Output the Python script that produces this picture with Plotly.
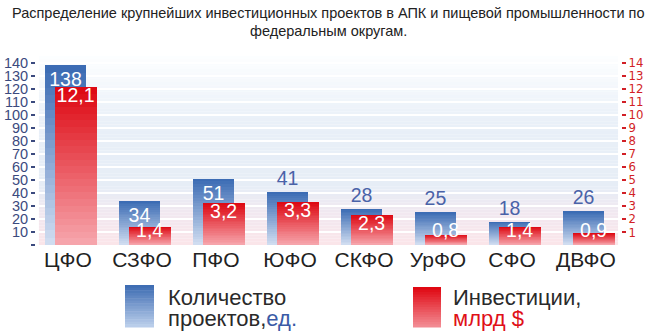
import plotly.graph_objects as go

# ---------------- data ----------------
categories = ["ЦФО", "СЗФО", "ПФО", "ЮФО", "СКФО", "УрФО", "СФО", "ДВФО"]
projects = [138, 34, 51, 41, 28, 25, 18, 26]             # Количество проектов, ед.
investments = [12.1, 1.4, 3.2, 3.3, 2.3, 0.8, 1.4, 0.9]   # Инвестиции, млрд $
project_labels = ["138", "34", "51", "41", "28", "25", "18", "26"]
invest_labels = ["12,1", "1,4", "3,2", "3,3", "2,3", "0,8", "1,4", "0,9"]
left_ticks = list(range(0, 141, 10))
right_ticks = list(range(1, 15))

title_line1 = "Распределение крупнейших инвестиционных проектов в АПК и пищевой промышленности по"
title_line2 = "федеральным округам."

# ---------------- style ----------------
W, H = 656, 336
ML, MR, MT, MB = 36, 35, 56, 91
X_RANGE = [-0.432, 7.473]
Y_MAX = 145
BLUE_OFF, BLUE_W = -0.31, 0.554
RED_OFF, RED_W = -0.182, 0.57
N_SEG = 24
RED_LABEL_MIN = 1.75   # lowest anchor for red labels so that text stays above the axis

def hex2rgb(h):
    h = h.lstrip("#")
    return tuple(int(h[i:i + 2], 16) for i in (0, 2, 4))

def lerp(c1, c2, t):
    a, b = hex2rgb(c1), hex2rgb(c2)
    return "rgb(%d,%d,%d)" % tuple(round(a[i] + (b[i] - a[i]) * t) for i in range(3))

BLUE_TOP, BLUE_BOT = "#3c6cb4", "#cfdcf0"
RED_TOP, RED_BOT = "#de0a14", "#f6a4ab"

x = list(range(len(categories)))
fig = go.Figure()

# blue bars (gradient by overlapping shorter lighter bars)
for k in range(N_SEG):
    frac = (N_SEG - k) / N_SEG
    fig.add_trace(go.Bar(
        x=x, y=[v * frac for v in projects], offset=BLUE_OFF, width=BLUE_W,
        marker=dict(color=lerp(BLUE_TOP, BLUE_BOT, k / (N_SEG - 1)), line=dict(width=0)),
        yaxis="y", hoverinfo="skip", showlegend=False))

blue_inside = [v >= 50 or v == 34 for v in projects]
fig.add_trace(go.Bar(
    x=x, y=projects, offset=BLUE_OFF, width=BLUE_W,
    marker=dict(color="rgba(0,0,0,0)", line=dict(width=0)),
    text=project_labels,
    textposition=["inside" if b else "outside" for b in blue_inside],
    insidetextanchor="end", constraintext="none", textangle=0,
    textfont=dict(family="Liberation Sans, Arial", size=19.5,
                  color=["white" if b else "#4a62a8" for b in blue_inside]),
    cliponaxis=False, yaxis="y", hoverinfo="skip", showlegend=False))

# red bars on secondary axis
for k in range(N_SEG):
    frac = (N_SEG - k) / N_SEG
    fig.add_trace(go.Bar(
        x=x, y=[v * frac for v in investments], offset=RED_OFF, width=RED_W,
        marker=dict(color=lerp(RED_TOP, RED_BOT, k / (N_SEG - 1)), line=dict(width=0)),
        yaxis="y2", hoverinfo="skip", showlegend=False))

# red value labels: text anchored just under the bar top
red_x = [xi + RED_OFF + RED_W / 2 for xi in x]
fig.add_trace(go.Scatter(
    x=red_x, y=[max(v, RED_LABEL_MIN) for v in investments], mode="text",
    text=invest_labels, textposition="bottom center",
    textfont=dict(family="Liberation Sans, Arial", size=19.5, color="white"),
    cliponaxis=False, yaxis="y2", hoverinfo="skip", showlegend=False))

# background gradient bands (decoration)
bg_stops = [(0, "#fbe5e9"), (25, "#f1e8f0"), (45, "#e6edf6"), (95, "#e9f0f8"), (145, "#fdfeff")]
def bg_color(yv):
    for (y0, c0), (y1, c1) in zip(bg_stops[:-1], bg_stops[1:]):
        if y0 <= yv <= y1:
            return lerp(c0, c1, (yv - y0) / (y1 - y0))
    return bg_stops[-1][1]

shapes = []
step = 2.5
yb = 0.0
while yb < Y_MAX - 1e-9:
    shapes.append(dict(type="rect", xref="paper", yref="y", x0=0.005, x1=0.995,
                       y0=yb, y1=yb + step, fillcolor=bg_color(yb + step / 2),
                       line=dict(width=0), layer="below"))
    yb += step

def px_x(p):
    return (p - ML) / (W - ML - MR)

def px_y(p):
    return (H - MB - p) / (H - MT - MB)

# legend swatches (decoration)
def swatch(x0, x1, y0, y1, ctop, cbot, n=16):
    out = []
    for i in range(n):
        ya = y0 + (y1 - y0) * i / n
        yb2 = y0 + (y1 - y0) * (i + 1) / n
        out.append(dict(type="rect", xref="paper", yref="paper",
                        x0=px_x(x0), x1=px_x(x1), y0=px_y(yb2 + 0.5), y1=px_y(ya),
                        fillcolor=lerp(ctop, cbot, i / (n - 1)), line=dict(width=0)))
    return out

shapes += swatch(125, 154, 285, 327, "#3f6db3", "#b9cdea")
shapes += swatch(413, 441, 287, 327, "#e00812", "#f28a92")

FONT = "Liberation Sans, Arial"
def ann(text, xp, yp, color="#2a2a2a", size=22, xanchor="left"):
    return dict(text=text, xref="paper", yref="paper", x=px_x(xp), y=px_y(yp),
                xanchor=xanchor, yanchor="middle", showarrow=False,
                font=dict(family=FONT, size=size, color=color))

annotations = [
    ann("Количество", 166, 297),
    ann("проектов,<span style='color:#3a5aa6'>ед.</span>", 166, 318),
    ann("Инвестиции,", 451, 297),
    ann("млрд $", 451, 318, color="#e01018"),
    ann(title_line1, 328, 13, color="#222", size=14.5, xanchor="center"),
    ann(title_line2, 328, 31, color="#222", size=14.5, xanchor="center"),
]

fig.update_layout(
    width=W, height=H,
    margin=dict(l=ML, r=MR, t=MT, b=MB, pad=0, autoexpand=False),
    paper_bgcolor="white", plot_bgcolor="rgba(0,0,0,0)",
    barmode="overlay", bargap=0,
    xaxis=dict(range=X_RANGE, tickmode="array", tickvals=x, ticktext=categories,
               showgrid=False, zeroline=False, showline=False, ticks="", automargin=False,
               tickfont=dict(family=FONT, size=21, color="#222")),
    yaxis=dict(range=[0, Y_MAX], tickmode="array", tickvals=left_ticks,
               ticktext=["" if t == 0 else str(t) for t in left_ticks], automargin=False,
               showgrid=True, gridcolor="white", gridwidth=2, zeroline=False,
               showline=False, ticks="outside", ticklen=4, tickwidth=2, tickcolor="#3b4a7e",
               tickfont=dict(family=FONT, size=14.5, color="#3b4a7e")),
    yaxis2=dict(range=[0, Y_MAX / 10], overlaying="y", side="right", tickmode="array",
                tickvals=right_ticks, ticktext=[str(t) for t in right_ticks], automargin=False,
                showgrid=False, zeroline=False, showline=False,
                ticks="outside", ticklen=4, tickwidth=2, tickcolor="#d21f26",
                tickfont=dict(family="DejaVu Sans Condensed, DejaVu Sans", size=13, color="#d21f26")),
    shapes=shapes, annotations=annotations,
)

fig.write_html("out.html")
